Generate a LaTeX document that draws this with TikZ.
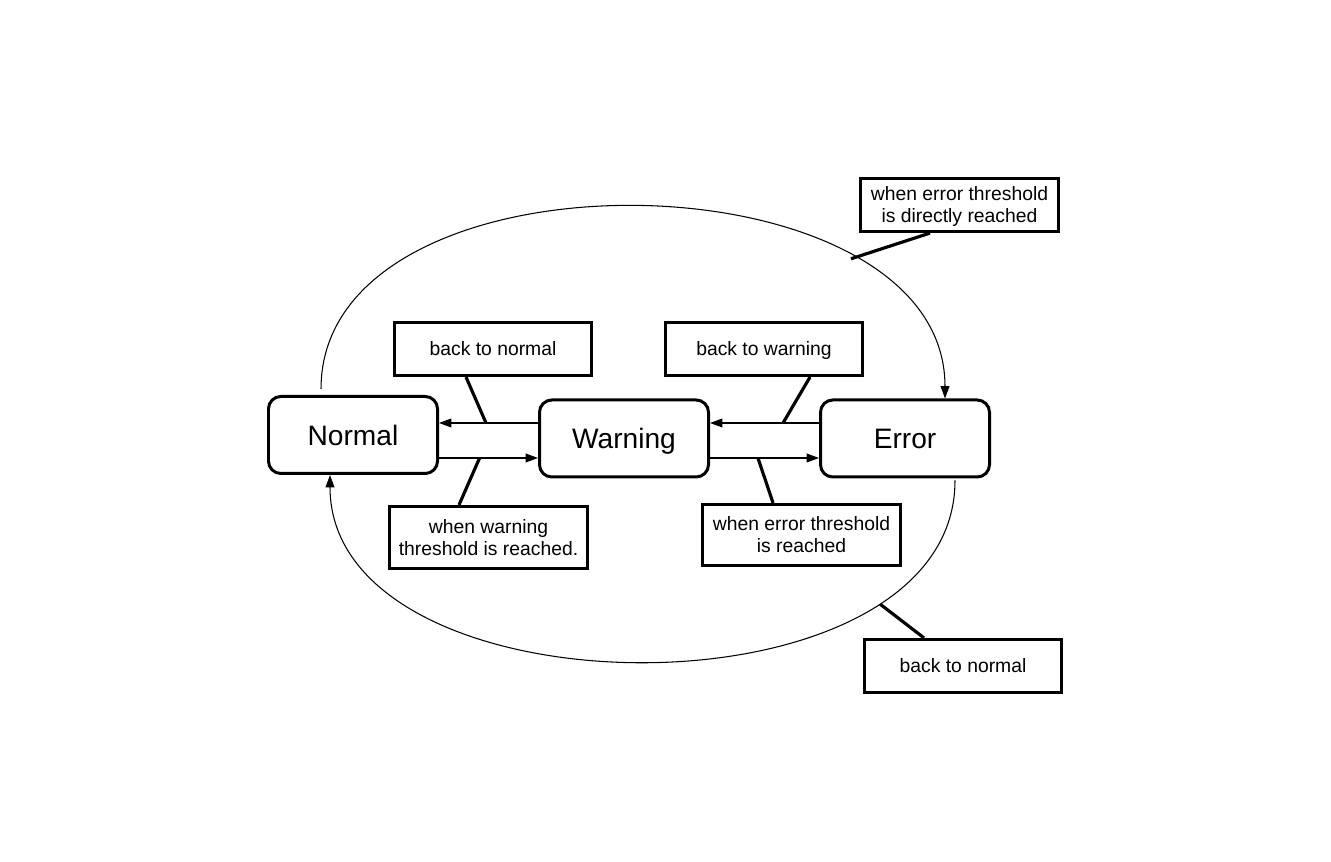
\documentclass[tikz,border=0pt]{standalone}
\usepackage{fontspec}
\setmainfont{Liberation Sans}
\usetikzlibrary{arrows.meta}

\begin{document}
\begin{tikzpicture}[
	state/.style={draw, line width=1.7pt, rounded corners=7pt, minimum width=3.38cm, minimum height=1.54cm, text depth=0pt, font=\fontsize{16}{19}\selectfont},
	note/.style={draw, line width=1.5pt, minimum width=3.95cm, minimum height=1.07cm, align=center, text depth=0.5pt, font=\fontsize{11}{12.5}\selectfont},
	trans/.style={line width=0.6pt, -{Triangle[length=7pt,width=5pt]}},
	leader/.style={line width=1.8pt}]
	\useasboundingbox (0, 0) rectangle (26.62, 17.24);
	\node[state] (normal) at (7.06, 8.54) {Normal};
	\node[state] (warning) at (12.48, 8.47) {Warning};
	\node[state] (error) at (18.10, 8.47) {Error};
	\node[note] (bn1) at (9.86, 10.26) {back to normal};
	\node[note, minimum height=1.25cm] (ww) at (9.77, 6.49) {when warning\\threshold is reached.};
	\node[note] (bw) at (15.28, 10.26) {back to warning};
	\node[note, minimum height=1.23cm] (et) at (16.03, 6.54) {when error threshold\\is reached};
	\node[note] (ed) at (19.19, 13.14) {when error threshold\\is directly reached};
	\node[note] (bn2) at (19.26, 3.92) {back to normal};
	\draw[trans] ([yshift=3.1mm]warning.west) -- coordinate[pos=0.525] (c1) ([yshift=3.1mm]warning.west -| normal.east);
	\draw[trans] ([yshift=-3.9mm]warning.west -| normal.east) -- coordinate[pos=0.41] (c2) ([yshift=-3.9mm]warning.west);
	\draw[trans] ([yshift=3.1mm]error.west) -- coordinate[pos=0.33] (c3) ([yshift=3.1mm]error.west -| warning.east);
	\draw[trans] ([yshift=-3.9mm]error.west -| warning.east) -- coordinate[pos=0.44] (c4) ([yshift=-3.9mm]error.west);
	\draw[trans] ([xshift=-6.4mm, yshift=1.2mm]normal.north) to[out=90, in=90, looseness=1.02] coordinate[pos=0.755] (c5) ([xshift=8mm]error.north);
	\draw[trans] ([xshift=10mm, yshift=-0.4mm]error.south) to[out=-90, in=-90] coordinate[pos=0.216] (c6) ([xshift=-4.6mm]normal.south);
	\draw[leader] ([xshift=-5.4mm]bn1.south) -- (c1);
	\draw[leader] (c2) -- ([xshift=-5.9mm]ww.north);
	\draw[leader] ([xshift=9.2mm]bw.south) -- (c3);
	\draw[leader] (c4) -- ([xshift=-5.7mm]et.north);
	\draw[leader] ([xshift=-5.9mm]ed.south) -- (c5);
	\draw[leader] (c6) -- ([xshift=-7.8mm]bn2.north);
\end{tikzpicture}
\end{document}
